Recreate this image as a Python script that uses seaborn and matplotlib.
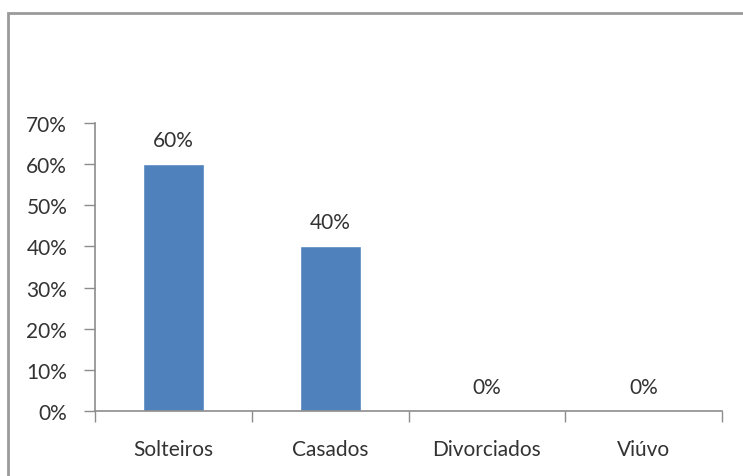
import matplotlib
matplotlib.use("Agg")
import matplotlib.pyplot as plt
import seaborn as sns
import pandas as pd
from matplotlib.patches import Rectangle

categories = ["Solteiros", "Casados", "Divorciados", "Viúvo"]
values = [60, 40, 0, 0]
labels = ["60%", "40%", "0%", "0%"]
yticks = [0, 10, 20, 30, 40, 50, 60, 70]

sns.set_theme(style="white")
plt.rcParams['font.family'] = ['Lato', 'DejaVu Sans']

df = pd.DataFrame({"cat": categories, "val": values})

fig = plt.figure(figsize=(7.43, 4.77), dpi=100)
fig.patch.set_facecolor("white")
ax = fig.add_axes([95/743, 1-412/477, (722-95)/743, (412-124)/477])

sns.barplot(data=df, x="cat", y="val", color="#4F81BD", width=0.39,
            saturation=1, ax=ax)

ax.set_ylim(0, 70)
ax.set_xlim(-0.5, 3.5)
ax.set_yticks(yticks)
ax.set_yticklabels([f"{t}%" for t in yticks])
ax.set_xlabel("")
ax.set_ylabel("")

txtc = "#333333"
fs = 15

for s in ["top", "right"]:
    ax.spines[s].set_visible(False)
for s in ["left", "bottom"]:
    ax.spines[s].set_color("#8C8C8C")
    ax.spines[s].set_linewidth(1.2)

ax.tick_params(axis="y", left=True, length=8, color="#8C8C8C", width=1.0,
               labelsize=fs, labelcolor=txtc, pad=12)
ax.tick_params(axis="x", bottom=False, labelsize=fs, labelcolor=txtc, pad=14)
# category boundary ticks
ax.set_xticks([-0.5, 0.5, 1.5, 2.5, 3.5], minor=True)
ax.tick_params(axis="x", which="minor", bottom=True, length=8, color="#8C8C8C", width=1.0)

for i, (v, lab) in enumerate(zip(values, labels)):
    ax.text(i, v + 3.5, lab, ha="center", va="bottom", fontsize=fs, color=txtc)

# outer chart border
fig.patches.append(Rectangle((8/743, -0.1), (745-8)/743, 0.1 + 1 - 14/477,
                             transform=fig.transFigure, fill=False,
                             edgecolor="#9A9A9A", linewidth=2.0))

fig.savefig("out.png", dpi=100, facecolor="white")
